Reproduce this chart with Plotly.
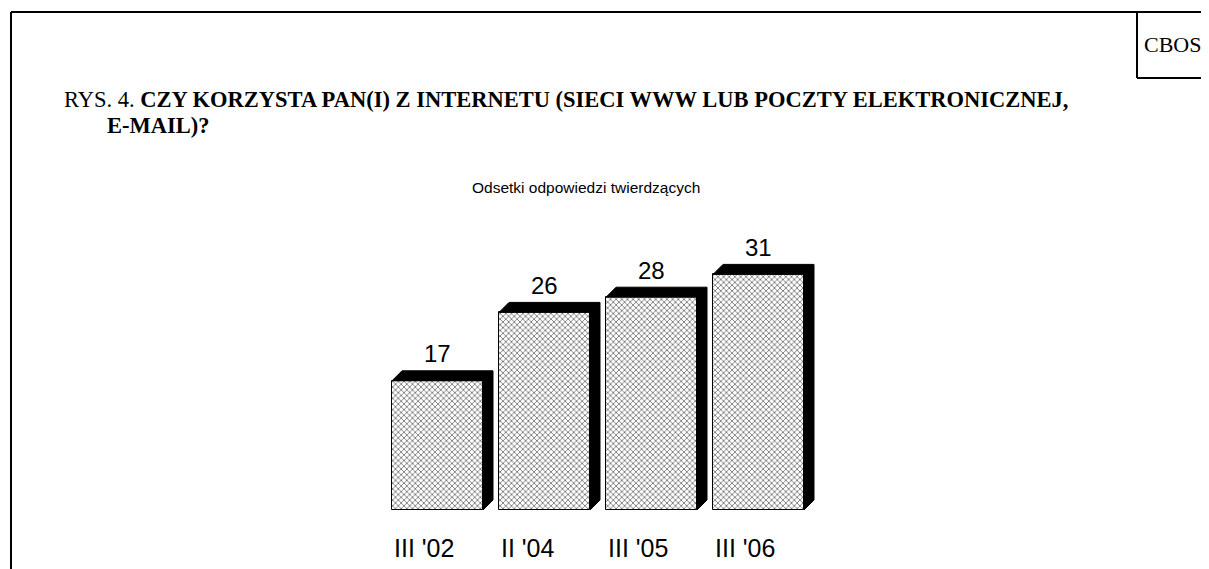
import plotly.graph_objects as go

# ---- data ----
categories = ["III '02", "II '04", "III '05", "III '06"]
values = [17, 26, 28, 31]
title_prefix = "RYS. 4. "
title_bold_1 = "CZY KORZYSTA PAN(I) Z INTERNETU (SIECI WWW LUB POCZTY ELEKTRONICZNEJ,"
title_bold_2 = "E-MAIL)?"
subtitle = "Odsetki odpowiedzi twierdzących"
brand = "CBOS"

# ---- geometry (reference pixel coordinates) ----
W, H = 1209, 569
OFF = 8                    # default page body margin
FW, FH = W - OFF, H - OFF  # figure size
PLOT_BOTTOM = 510          # pixel row of zero line
PX_PER_CAT = 107.0
FIRST_CENTER = 437.5
PX_PER_UNIT = 7.6
BAR_W = 91 / PX_PER_CAT
DEPTH = 10                 # px
dx = DEPTH / PX_PER_CAT
dy = DEPTH / PX_PER_UNIT

xmin = -(FIRST_CENTER - OFF) / PX_PER_CAT
xmax = xmin + FW / PX_PER_CAT
ymax = (PLOT_BOTTOM - OFF) / PX_PER_UNIT

def px(xp):
    return (xp - OFF) / FW

def py(yp):
    return (PLOT_BOTTOM - yp) / (PLOT_BOTTOM - OFF)

fig = go.Figure()

xs = list(range(len(categories)))

# 3D top + side (black)
for i, v in zip(xs, values):
    x0, x1 = i - BAR_W / 2, i + BAR_W / 2
    poly_x = [x0, x0 + dx, x1 + dx, x1 + dx, x1, x1, x0]
    poly_y = [v, v + dy, v + dy, dy, 0, v, v]
    fig.add_trace(go.Scatter(x=poly_x, y=poly_y, fill="toself", mode="lines",
                             fillcolor="black", line=dict(color="black", width=1),
                             hoverinfo="skip", showlegend=False))

# front faces
fig.add_trace(go.Bar(
    x=xs, y=values, width=BAR_W,
    marker=dict(color="white",
                line=dict(color="black", width=1),
                pattern=dict(shape="x", size=4, solidity=0.4,
                             fgcolor="#7a7a7a", bgcolor="white", fillmode="replace")),
    showlegend=False, hoverinfo="skip"))

annotations = []
for i, v in zip(xs, values):
    annotations.append(dict(x=i, y=v, xref="x", yref="y", text=str(v), showarrow=False,
                            yanchor="middle", yshift=27,
                            font=dict(family="Liberation Sans, Arial", size=24, color="black")))
for i, c in zip(xs, categories):
    annotations.append(dict(x=i - BAR_W / 2, y=py(548), xref="x", yref="paper", text=c,
                            showarrow=False, xanchor="left", yanchor="middle",
                            font=dict(family="Liberation Sans, Arial", size=25, color="black")))

serif = "Times New Roman, Liberation Serif, serif"
annotations += [
    dict(x=px(62), y=py(100), xref="paper", yref="paper", xanchor="left", yanchor="middle",
         text=title_prefix + "<b>" + title_bold_1 + "</b>", showarrow=False,
         font=dict(family=serif, size=22.5, color="black")),
    dict(x=px(105), y=py(125), xref="paper", yref="paper", xanchor="left", yanchor="middle",
         text="<b>" + title_bold_2 + "</b>", showarrow=False,
         font=dict(family=serif, size=22.5, color="black")),
    dict(x=px(586), y=py(187), xref="paper", yref="paper", xanchor="center", yanchor="middle",
         text=subtitle, showarrow=False,
         font=dict(family="Liberation Sans, Arial", size=15.5, color="black")),
    dict(x=px(1172), y=py(44), xref="paper", yref="paper", xanchor="center", yanchor="middle",
         text=brand, showarrow=False,
         font=dict(family=serif, size=22, color="black")),
]

line_style = dict(color="black", width=2)
shapes = [
    dict(type="line", xref="paper", yref="paper", x0=px(11), x1=px(W), y0=py(12), y1=py(12), line=line_style),
    dict(type="line", xref="paper", yref="paper", x0=px(11), x1=px(11), y0=py(12), y1=py(H), line=line_style),
    dict(type="line", xref="paper", yref="paper", x0=px(1137), x1=px(1137), y0=py(12), y1=py(78), line=line_style),
    dict(type="line", xref="paper", yref="paper", x0=px(1137), x1=px(W), y0=py(78), y1=py(78), line=line_style),
]

fig.update_layout(
    width=FW, height=FH,
    margin=dict(l=0, r=0, t=0, b=H - PLOT_BOTTOM, pad=0),
    paper_bgcolor="white", plot_bgcolor="white",
    xaxis=dict(range=[xmin, xmax], showgrid=False, zeroline=False, showline=False,
               showticklabels=False, ticks="", fixedrange=True),
    yaxis=dict(range=[0, ymax], showgrid=False, zeroline=False, showline=False,
               showticklabels=False, fixedrange=True),
    annotations=annotations, shapes=shapes, bargap=0,
)

fig.write_html("out.html")
